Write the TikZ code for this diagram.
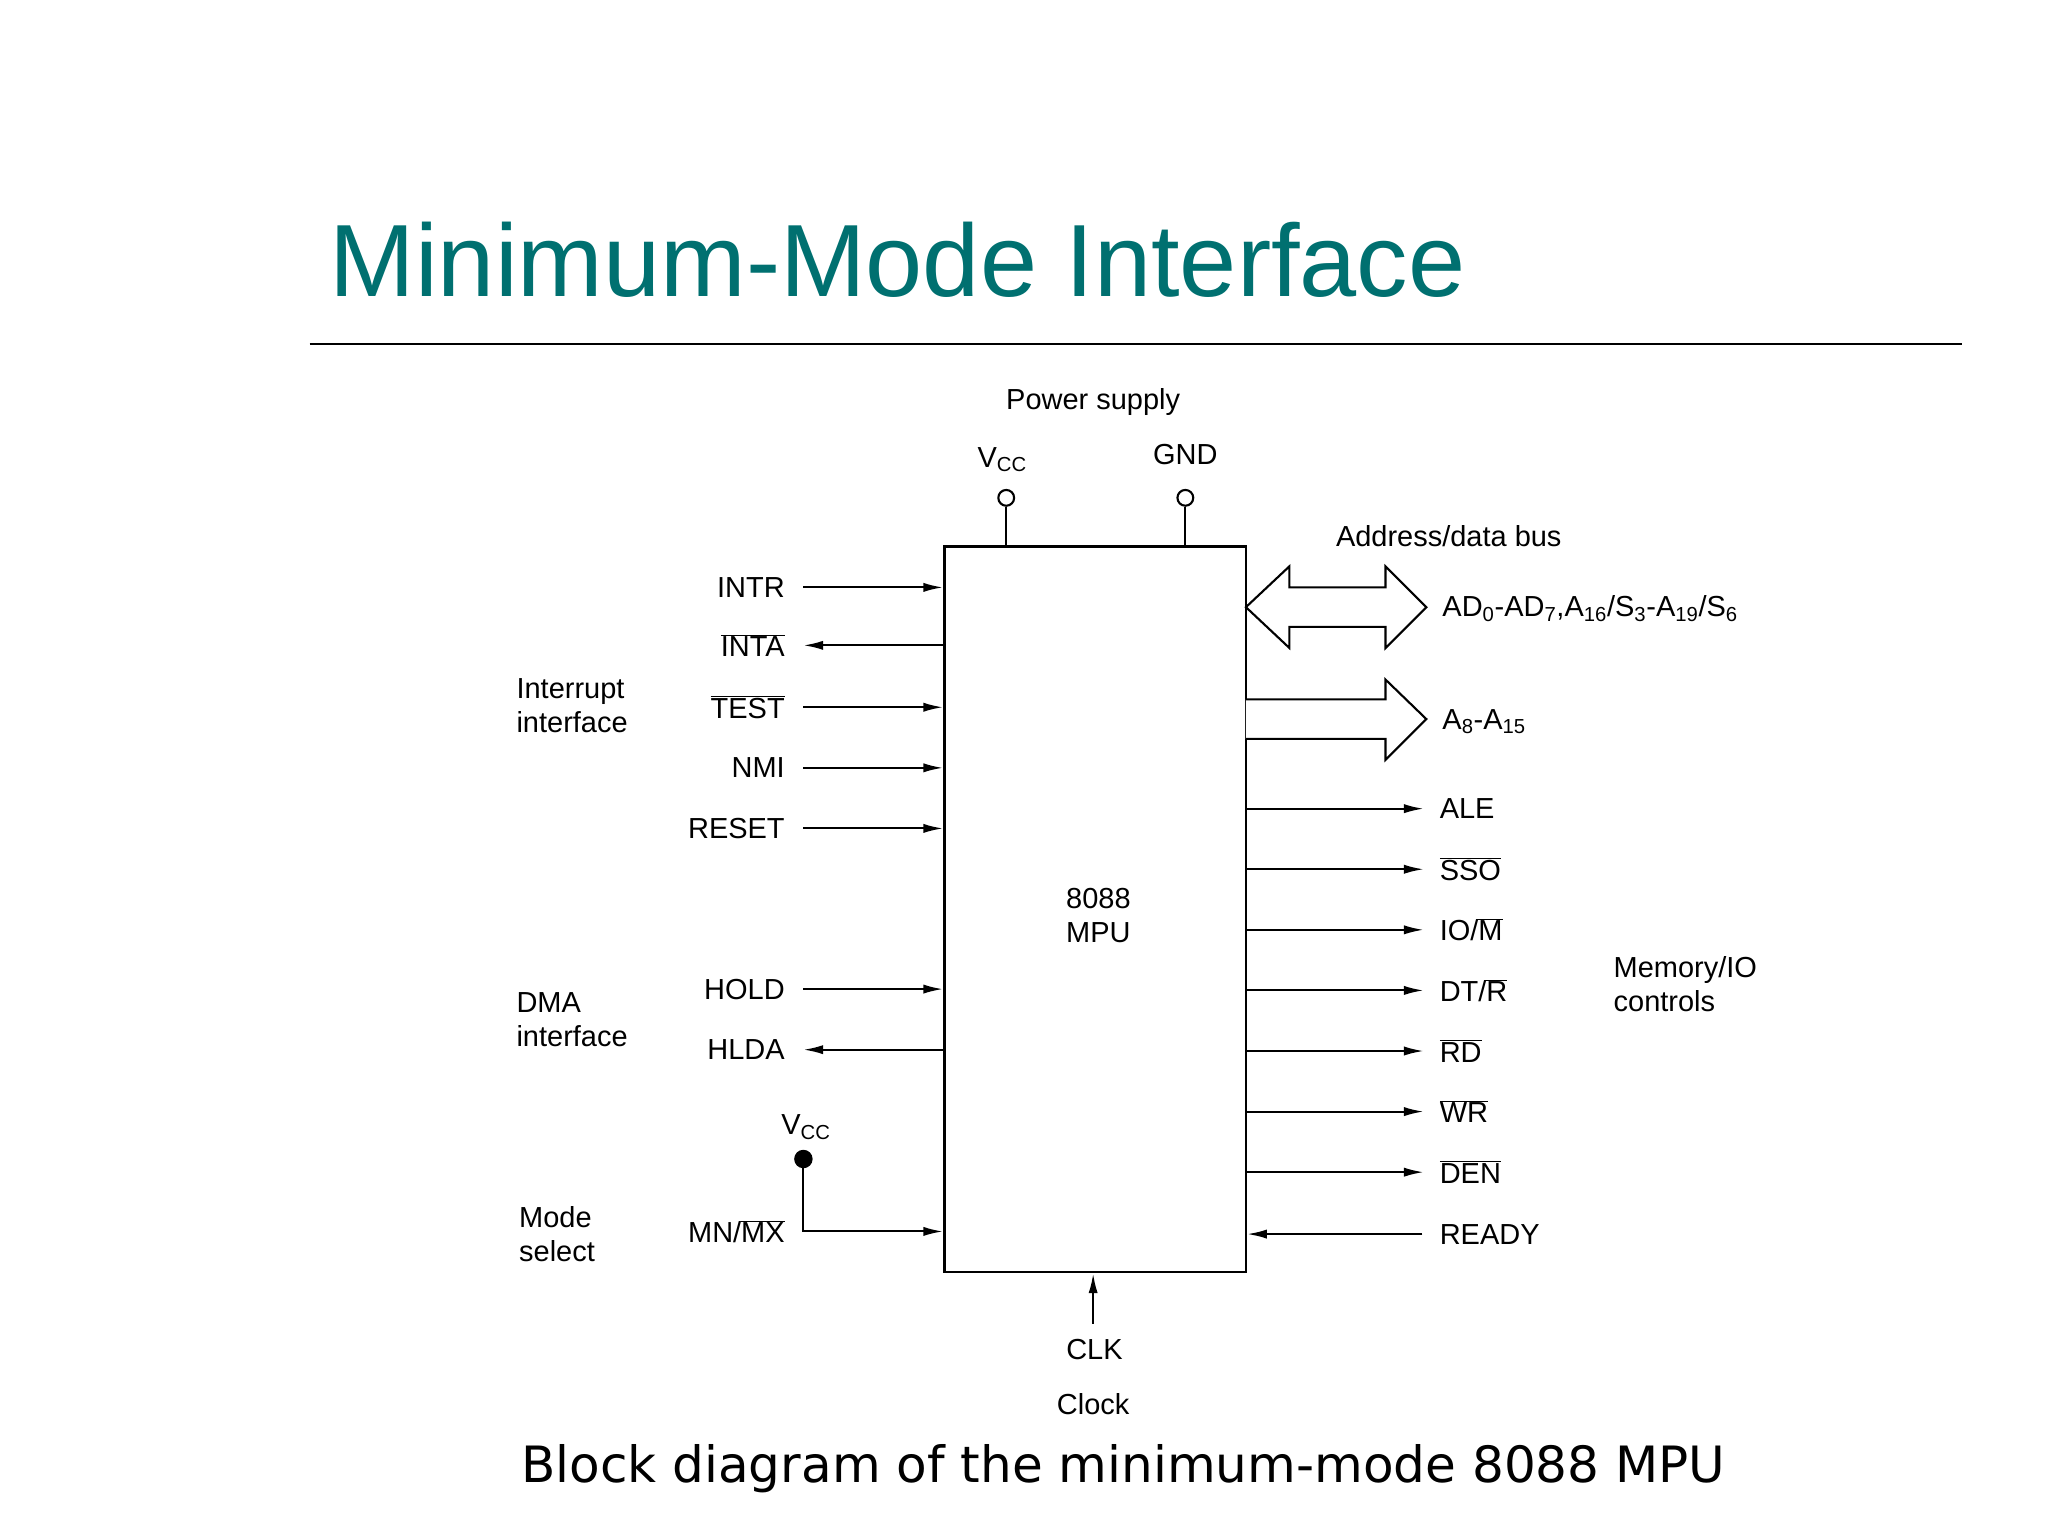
\documentclass[tikz,border=0pt]{standalone}
\usepackage{fontspec}
\setmainfont{Liberation Sans}
\newfontfamily\capfont{DejaVu Sans}
\usetikzlibrary{arrows.meta}
\definecolor{titleteal}{RGB}{0,112,112}
\begin{document}
\begin{tikzpicture}[x=1pt,y=-1pt,
  lbl/.style={font=\fontsize{22}{26}\selectfont,inner sep=0pt},
  sig/.style={line width=1.6pt,-{Latex[length=15pt,width=7pt]}},
  hollow/.style={line width=1.6pt,fill=white,line join=miter}]
\useasboundingbox (0,0) rectangle (1555,1166);
\node[anchor=base west,inner sep=0pt,text=titleteal,font=\fontsize{78}{90}\selectfont] (title) at (250,225) {Minimum-Mode Interface};
\draw[line width=1.5pt] (235,261) -- (1490,261);
% box
\node[draw,line width=1.8pt,minimum width=229pt,minimum height=551pt,inner sep=0pt] (mpu) at (831.5,690.5) {};
\node[lbl,align=center] (mputxt) at (834,695) {8088\\MPU};
% power
\node[lbl] (ps) at (830,305) {Power supply};
\node[lbl] (vcc) at (761,349) {V\textsubscript{CC}};
\node[lbl] (gnd) at (900,345) {GND};
\node[draw,circle,line width=1.6pt,minimum size=12pt,inner sep=0pt] (vccp) at (764,378) {};
\node[draw,circle,line width=1.6pt,minimum size=12pt,inner sep=0pt] (gndp) at (900,378) {};
\draw[line width=1.6pt] (vccp) -- (vccp |- mpu.north);
\draw[line width=1.6pt] (gndp) -- (gndp |- mpu.north);
% left signals
\foreach \n/\t/\y in {intr/{INTR}/446, inta/{$\overline{\mbox{INTA}}$}/490, test/{$\overline{\mbox{TEST}}$}/537, nmi/{NMI}/583, reset/{RESET}/629, hold/{HOLD}/751, hlda/{HLDA}/797}{
  \node[lbl,anchor=east] (\n) at (596,\y) {\t};
  \coordinate (\n s) at (610,\y);
}
\foreach \n in {intr,test,nmi,reset,hold}{\draw[sig] (\n s) -- (\n s -| mpu.west);}
\foreach \n in {inta,hlda}{\draw[sig] (\n s -| mpu.west) -- (\n s);}
% mode select
\node[lbl,anchor=east] (mnmx) at (596,935) {MN/$\overline{\mbox{MX}}$};
\node[lbl] (vcc2) at (612,856) {V\textsubscript{CC}};
\node[circle,fill,minimum size=14pt,inner sep=0pt] (dot) at (610,880) {};
\coordinate (mnc) at (610,935);
\draw[sig] (dot.center) -- (mnc) -- (mnc -| mpu.west);
% group labels
\node[lbl,anchor=west,align=left] (intg) at (392,536) {Interrupt\\interface};
\node[lbl,anchor=west,align=left] (dmag) at (392,774) {DMA\\interface};
\node[lbl,anchor=west,align=left] (modeg) at (394,937) {Mode\\select};
% hollow bus arrows
\draw[hollow] (946,461) -- (979,430) -- (979,446) -- (1052,446) -- (1052,430) -- (1083,461) -- (1052,492) -- (1052,476) -- (979,476) -- (979,492) -- cycle;
\draw[hollow] (946,531) -- (1052,531) -- (1052,516) -- (1083,546) -- (1052,577) -- (1052,561) -- (946,561);
\node[lbl] (adb) at (1100,407) {Address/data bus};
\node[lbl,anchor=west] (ad) at (1095,462) {AD\textsubscript{0}-AD\textsubscript{7},A\textsubscript{16}/S\textsubscript{3}-A\textsubscript{19}/S\textsubscript{6}};
\node[lbl,anchor=west] (a8) at (1095,548) {A\textsubscript{8}-A\textsubscript{15}};
% right signals
\foreach \n/\t/\y in {ale/{ALE}/614, sso/{$\overline{\mbox{SSO}}$}/660, iom/{IO/$\overline{\mbox{M}}$}/706, dtr/{DT/$\overline{\mbox{R}}$}/752, rd/{$\overline{\mbox{RD}}$}/798, wr/{$\overline{\mbox{WR}}$}/844, den/{$\overline{\mbox{DEN}}$}/890}{
  \node[lbl,anchor=west] (\n) at (1093,\y) {\t};
  \coordinate (\n e) at (1081,\y);
  \draw[sig] (\n e -| mpu.east) -- (\n e);
}
\node[lbl,anchor=west] (ready) at (1093,937) {READY};
\coordinate (rdye) at (1080,937);
\draw[sig] (rdye) -- (rdye -| mpu.east);
\node[lbl,anchor=west,align=left] (memg) at (1225,747) {Memory/IO\\controls};
% clock
\node[lbl] (clk) at (831,1025) {CLK};
\node[lbl] (clock) at (830,1066) {Clock};
\coordinate (clks) at (830,1005);
\draw[sig] (clks) -- (clks |- mpu.south);
% caption
\node[inner sep=0pt,font=\capfont\fontsize{38}{44}\selectfont] (cap) at (853,1115) {Block diagram of the minimum-mode 8088 MPU};
\end{tikzpicture}
\end{document}
